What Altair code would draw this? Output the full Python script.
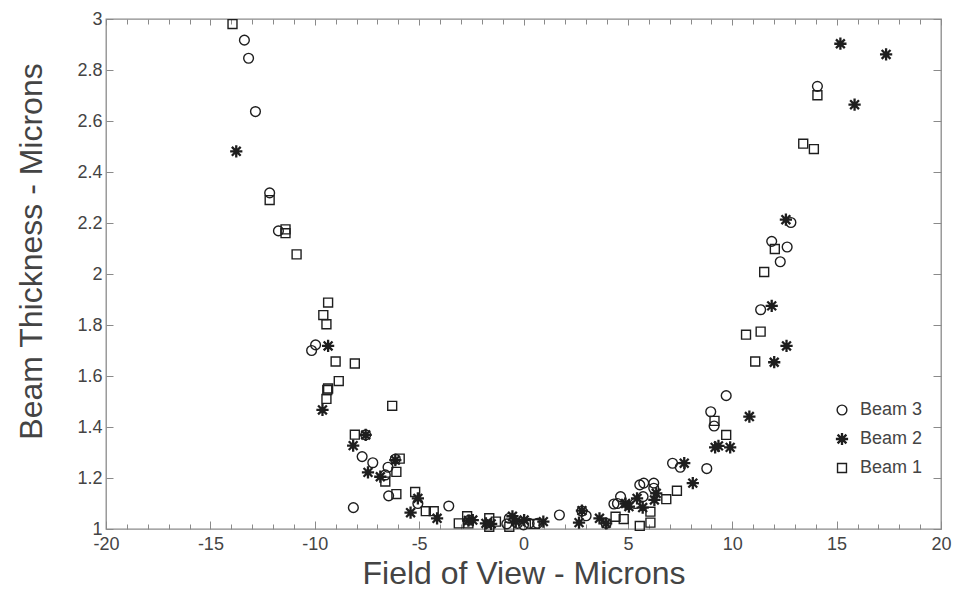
import altair as alt
import pandas as pd

# ---- data ----
beam3_x = [-13.37, -13.17, -12.84, -12.16, -11.74, -9.96, -10.15, -7.56, -7.73, -7.22,
           -6.49, -6.62, -6.14, -6.46, -8.15, -5.06, -3.58, -2.6, -0.68, -0.8,
           -0.29, 0.0, 0.27, 0.67, 1.72, 2.8, 3.0, 3.96, 4.33, 4.5,
           4.65, 5.73, 5.57, 5.76, 6.24, 6.24, 5.35, 7.14, 7.51, 8.78,
           8.97, 9.13, 9.71, 11.36, 11.89, 12.3, 12.63, 12.81, 14.08]
beam3_y = [2.917, 2.846, 2.637, 2.318, 2.169, 1.722, 1.70, 1.369, 1.284, 1.26,
           1.242, 1.212, 1.274, 1.13, 1.084, 1.10, 1.09, 1.035, 1.042, 1.02,
           1.022, 1.016, 1.022, 1.022, 1.055, 1.07, 1.052, 1.022, 1.098, 1.10,
           1.127, 1.127, 1.173, 1.18, 1.18, 1.16, 1.10, 1.258, 1.242, 1.237,
           1.46, 1.404, 1.523, 1.86, 2.128, 2.048, 2.106, 2.202, 2.736]

beam2_x = [-13.76, -9.36, -9.63, -7.56, -8.16, -7.45, -6.86, -6.14, -5.06, -5.41,
           -4.14, -2.64, -2.43, -1.8, -1.55, -0.53, -0.37, 0.03, 0.95, 2.66,
           2.8, 3.64, 3.96, 4.89, 5.05, 5.44, 5.71, 6.27, 6.36, 7.7,
           8.11, 9.18, 9.34, 9.9, 10.82, 11.89, 12.01, 12.6, 12.57, 15.18,
           15.86, 17.37]
beam2_y = [2.481, 1.718, 1.467, 1.369, 1.327, 1.222, 1.205, 1.27, 1.12, 1.064,
           1.042, 1.033, 1.035, 1.022, 1.02, 1.05, 1.029, 1.035, 1.029, 1.025,
           1.072, 1.042, 1.022, 1.10, 1.088, 1.12, 1.084, 1.114, 1.14, 1.258,
           1.18, 1.32, 1.326, 1.32, 1.441, 1.875, 1.654, 1.718, 2.213, 2.903,
           2.664, 2.861]

beam1_x = [-13.94, -12.16, -11.4, -11.4, -10.87, -9.36, -9.59, -9.44, -9.0, -8.08,
           -8.85, -9.36, -9.44, -9.4, -6.29, -8.08, -5.93, -6.09, -6.62, -6.09,
           -5.19, -4.68, -4.3, -3.1, -2.7, -2.64, -1.64, -1.64, -1.32, -0.68,
           0.54, 4.41, 4.8, 5.57, 6.08, 6.08, 6.84, 7.35, 9.15, 9.71,
           10.66, 11.1, 11.36, 11.53, 12.04, 13.4, 13.91, 14.08]
beam1_y = [2.98, 2.29, 2.175, 2.16, 2.077, 1.888, 1.839, 1.803, 1.657, 1.649,
           1.58, 1.551, 1.51, 1.545, 1.483, 1.37, 1.276, 1.224, 1.186, 1.137,
           1.145, 1.07, 1.07, 1.022, 1.05, 1.022, 1.042, 1.009, 1.029, 1.009,
           1.02, 1.048, 1.039, 1.012, 1.025, 1.068, 1.117, 1.15, 1.424, 1.369,
           1.762, 1.657, 1.774, 2.008, 2.098, 2.511, 2.49, 2.701]

series_names = ["Beam 3", "Beam 2", "Beam 1"]
x_major = [-20, -15, -10, -5, 0, 5, 10, 15, 20]
x_minor = [v for v in range(-20, 21) if v % 5 != 0]
y_major = [1.0, 1.2, 1.4, 1.6, 1.8, 2.0, 2.2, 2.4, 2.6, 2.8, 3.0]

rows = []
for name, xs, ys in [("Beam 3", beam3_x, beam3_y), ("Beam 2", beam2_x, beam2_y), ("Beam 1", beam1_x, beam1_y)]:
    for a, b in zip(xs, ys):
        rows.append({"x": a, "y": b, "beam": name})
df = pd.DataFrame(rows)

ASTERISK = "M-1,0L1,0M0,-1L0,1M-0.72,-0.72L0.72,0.72M-0.72,0.72L0.72,-0.72"
INK = "#1e1e1e"
AXC = "#8a8a8a"
TXT = "#444444"
FONT = "Liberation Sans"

xscale = alt.Scale(domain=[-20, 20], nice=False, zero=False)
yscale = alt.Scale(domain=[1, 3], nice=False, zero=False)

base = alt.Chart(df)

points = base.mark_point(filled=False, color=INK, opacity=1).encode(
    x=alt.X("x:Q", scale=xscale,
            axis=alt.Axis(orient="bottom", values=x_major, ticks=False, tickSize=0,
                          labelPadding=6, labelFlush=False, labelExpr="'' + datum.value",
                          title="Field of View - Microns",
                          titleY=54, titleBaseline="alphabetic", domain=False, grid=False)),
    y=alt.Y("y:Q", scale=yscale,
            axis=alt.Axis(orient="left", values=y_major, ticks=False, tickSize=0,
                          labelPadding=4, labelFlush=False, labelExpr="'' + datum.value",
                          title="Beam Thickness - Microns",
                          titleX=-65, titleY=232, titleBaseline="alphabetic",
                          domain=False, grid=False)),
    shape=alt.Shape("beam:N",
                    scale=alt.Scale(domain=series_names, range=["circle", ASTERISK, "square"]),
                    legend=alt.Legend(orient="none", legendX=727, legendY=382, title=None,
                                      labelFontSize=18, labelColor=TXT, labelFont=FONT,
                                      labelOffset=9, rowPadding=9, padding=0)),
    size=alt.Size("beam:N", scale=alt.Scale(type="ordinal", domain=series_names, range=[95, 150, 80])),
    strokeWidth=alt.StrokeWidth("beam:N", scale=alt.Scale(type="ordinal", domain=series_names, range=[1.4, 2.3, 1.4])),
)

def tick_layer(x_orient=None, x_vals=None, x_size=0, y_orient=None, y_vals=None, y_size=0):
    if x_orient:
        xe = alt.X("x:Q", scale=xscale,
                   axis=alt.Axis(orient=x_orient, values=x_vals, tickSize=x_size, offset=-x_size,
                                 labels=False, domain=False, grid=False, title=""))
    else:
        xe = alt.X("x:Q", scale=xscale, axis=None)
    if y_orient:
        ye = alt.Y("y:Q", scale=yscale,
                   axis=alt.Axis(orient=y_orient, values=y_vals, tickSize=y_size, offset=-y_size,
                                 labels=False, domain=False, grid=False, title=""))
    else:
        ye = alt.Y("y:Q", scale=yscale, axis=None)
    return base.mark_point(opacity=0).encode(x=xe, y=ye)

layers = [
    points,
    tick_layer("bottom", x_major, 8, "left", y_major, 7),
    tick_layer("top", x_major, 6, "right", y_major, 8),
    tick_layer("bottom", x_minor, 5),
    tick_layer("top", x_minor, 5),
]

chart = alt.layer(*layers).resolve_axis(x="independent", y="independent").properties(
    width=835, height=510,
    background="white",
    autosize=alt.AutoSizeParams(type="none"),
    padding={"left": 98, "top": 11, "right": 11, "bottom": 63},
).configure_axis(
    labelFont=FONT, labelFontSize=18, labelColor=TXT,
    titleFont=FONT, titleFontSize=32, titleColor=TXT, titleFontWeight="normal",
    tickColor=AXC, tickWidth=1, grid=False,
).configure_view(stroke=AXC, strokeWidth=1.3)

chart.save("out.html", embed_options={"renderer": "svg", "actions": False})
